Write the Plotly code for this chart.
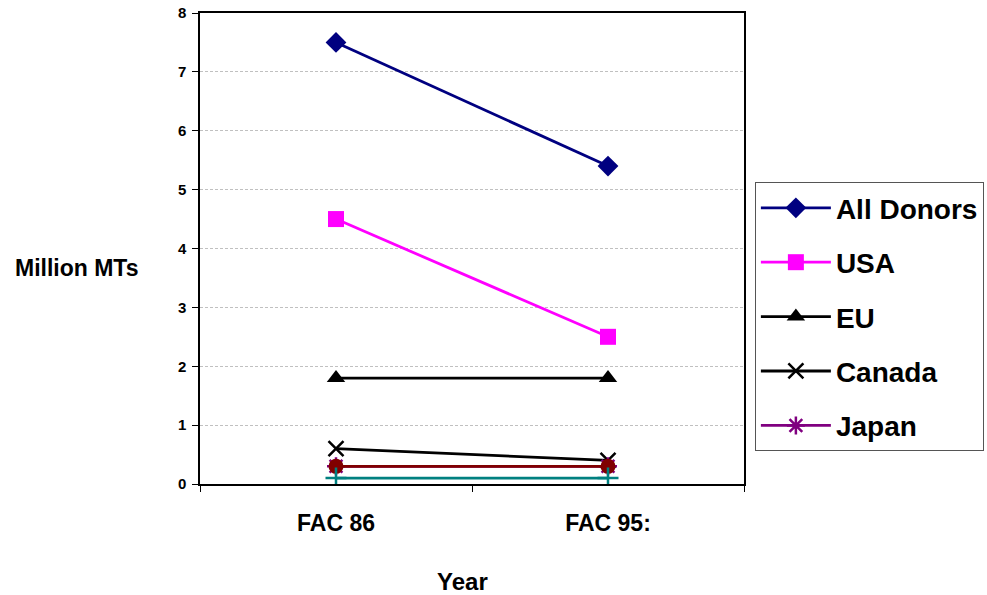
import plotly.graph_objects as go

# Food aid commitments by donor (million metric tons)
years = ["FAC 86", "FAC 95:"]
all_donors = [7.5, 5.4]
usa = [4.5, 2.5]
eu = [1.8, 1.8]
canada = [0.6, 0.4]
japan = [0.3, 0.3]
others_a = [0.3, 0.3]
others_b = [0.1, 0.1]

series = [
    ("All Donors", all_donors, "#000080", dict(symbol="diamond", size=16, color="#000080"), True),
    ("USA", usa, "#FF00FF", dict(symbol="square", size=16, color="#FF00FF"), True),
    ("EU", eu, "#000000", dict(symbol="triangle-up", size=16, color="#000000"), True),
    ("Canada", canada, "#000000", dict(symbol="x-thin-open", size=15, color="#000000",
                                       line=dict(width=2.5, color="#000000")), True),
    ("Japan", japan, "#800080", dict(symbol="asterisk-open", size=15, color="#800080",
                                     line=dict(width=2.5, color="#800080")), True),
    ("Other 1", others_a, "#800000", dict(symbol="circle", size=15, color="#800000"), False),
    ("Other 2", others_b, "#008080", dict(symbol="cross-thin-open", size=15, color="#008080",
                                          line=dict(width=2.5, color="#008080")), False),
]

fig = go.Figure()
for i, (name, vals, col, mk, show) in enumerate(series):
    fig.add_trace(go.Scatter(
        x=years, y=vals, name=name, mode="lines+markers",
        line=dict(color=col, width=2.8), marker=mk,
        showlegend=show, legendgroup=f"g{i}",
    ))

fam = "Liberation Sans"
fig.update_layout(
    width=987, height=595,
    margin=dict(l=200, r=243, t=13, b=111, autoexpand=False),
    paper_bgcolor="white", plot_bgcolor="white",
    font=dict(family=fam, color="black"),
    showlegend=True,
    legend=dict(
        x=1.02, y=0.641, xanchor="left", yanchor="top",
        bordercolor="#555555", borderwidth=1,
        font=dict(size=28, family=fam, weight="bold"),
        tracegroupgap=15, traceorder="grouped",
        itemwidth=70,
    ),
    xaxis=dict(
        type="category", range=[-0.5, 1.5], tickson="boundaries",
        ticks="outside", ticklen=6, tickcolor="black",
        showline=True, linecolor="black", linewidth=1.5,
        mirror=True, showgrid=False, ticklabelstandoff=18,
        tickfont=dict(size=23, family=fam, weight="bold"),
    ),
    yaxis=dict(
        range=[0, 8], dtick=1, ticks="outside", ticklen=6, tickcolor="black",
        showline=True, linecolor="black", linewidth=1.5, mirror=True,
        showgrid=True, gridcolor="#C0C0C0", griddash="3px,2px", gridwidth=1,
        zeroline=False, ticklabelstandoff=3,
        tickfont=dict(size=15, family=fam, weight="bold"),
    ),
    annotations=[
        dict(text="<b>Million MTs</b>", xref="paper", yref="paper",
             x=-0.226, y=0.459, xanchor="center", yanchor="middle",
             showarrow=False, font=dict(size=23, family=fam)),
        dict(text="<b>Year</b>", xref="paper", yref="paper",
             x=0.483, y=-0.208, xanchor="center", yanchor="middle",
             showarrow=False, font=dict(size=24, family=fam)),
    ],
)

fig.write_html("out.html")
